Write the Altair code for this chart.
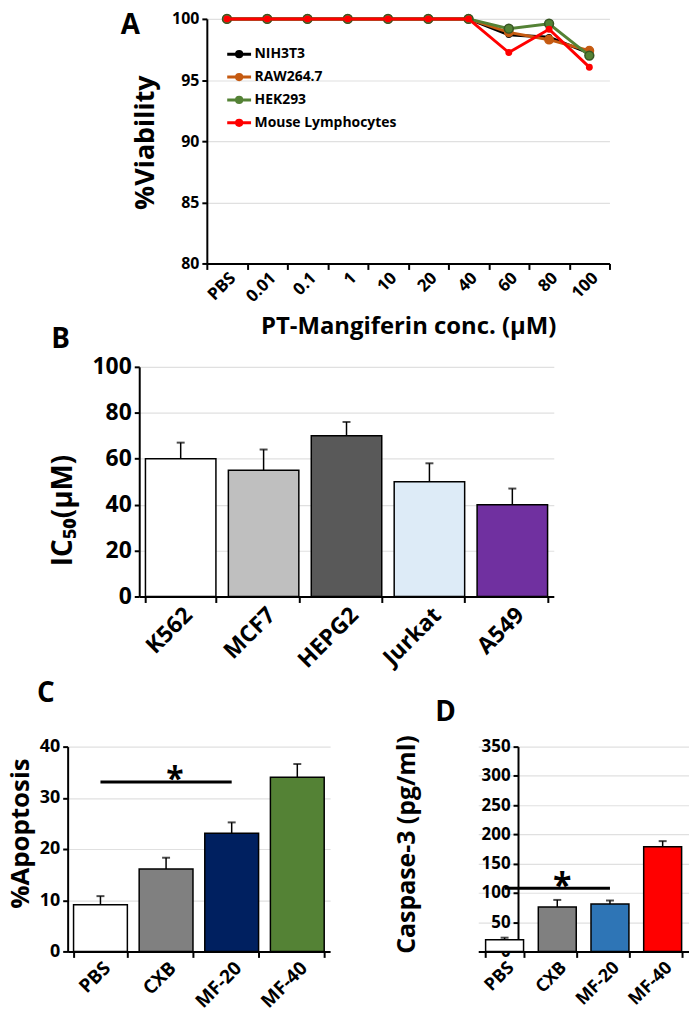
import altair as alt
import pandas as pd

FONT = "Open Sans"

# ---------------- Panel A data ----------------
conc = ["PBS", "0.01", "0.1", "1", "10", "20", "40", "60", "80", "100"]
nih3t3 = [100, 100, 100, 100, 100, 100, 100, 98.7, 98.5, 97.2]
raw2647 = [100, 100, 100, 100, 100, 100, 100, 98.9, 98.3, 97.4]
hek293 = [100, 100, 100, 100, 100, 100, 100, 99.2, 99.6, 97.0]
mouse_lymph = [100, 100, 100, 100, 100, 100, 100, 97.25, 99.15, 96.05]
series_names = ["NIH3T3", "RAW264.7", "HEK293", "Mouse Lymphocytes"]
series_colors = ["#000000", "#C55A11", "#548235", "#FF0000"]
point_sizes = [25, 70, 80, 30]
point_strokes = ["#000000", "#C55A11", "#375623", "#FF0000"]
viab_ticks = [80, 85, 90, 95, 100]

# ---------------- Panel B data ----------------
cells_b = ["K562", "MCF7", "HEPG2", "Jurkat", "A549"]
ic50 = [60, 55, 70, 50, 40]
ic50_err = [7, 9, 6, 8, 7]
colors_b = ["#FFFFFF", "#BFBFBF", "#595959", "#DDEBF7", "#7030A0"]
ic50_ticks = [0, 20, 40, 60, 80, 100]

# ---------------- Panel C data ----------------
groups = ["PBS", "CXB", "MF-20", "MF-40"]
apoptosis = [9.1, 16.1, 23.1, 34.0]
apoptosis_err = [1.7, 2.2, 2.1, 2.6]
colors_c = ["#FFFFFF", "#808080", "#002060", "#548235"]
apo_ticks = [0, 10, 20, 30, 40]
sig_c = 33.1

# ---------------- Panel D data ----------------
caspase = [20, 76, 81, 179]
caspase_err = [3.5, 12, 6, 9.5]
colors_d = ["#FFFFFF", "#808080", "#2E75B6", "#FF0000"]
casp_ticks = [0, 50, 100, 150, 200, 250, 300, 350]
sig_d = 108

GRID = "#E0E0E0"


# ---------------- helpers ----------------
def letter(txt, x, y):
    return alt.Chart(pd.DataFrame({"t": [txt]})).mark_text(
        font=FONT, fontSize=28, fontWeight="bold", color="black",
        align="center", baseline="middle"
    ).encode(x=alt.value(x), y=alt.value(y), text="t:N")


def yaxis(title, values, lfs, tfs, tx, ty, offset=0):
    return alt.Axis(title=title, values=values, labelFontSize=lfs, orient="left",
                    offset=offset, titleFontSize=tfs, titleX=tx, titleY=ty,
                    titleAngle=270, titleBaseline="top", titleAlign="center",
                    grid=True, gridColor=GRID, gridWidth=1.2, tickSize=5,
                    labelPadding=3)


def xaxis(lfs, offset=0):
    return alt.Axis(title=None, labelAngle=-45, labelFontSize=lfs, grid=False,
                    orient="bottom", offset=offset, tickBand="extent",
                    tickSize=6, labelPadding=1)


def bar_panel(cats, field, vals, errs, colors, xrange, yrange, ydomain, yax, xax,
              pad_in, sig=None, star_dx=0, star_dy=0, star_fs=32):
    df = pd.DataFrame({field: cats, "val": vals,
                       "top": [v + e for v, e in zip(vals, errs)]})
    xs = alt.Scale(domain=cats, range=xrange, paddingInner=pad_in, paddingOuter=pad_in / 2)
    ys = alt.Scale(domain=ydomain, range=yrange, nice=False, zero=True)
    X = alt.X(f"{field}:N", sort=cats, scale=xs, axis=xax)
    base = alt.Chart(df)
    bars = base.mark_bar(stroke="black", strokeWidth=1.5).encode(
        x=X, y=alt.Y("val:Q", scale=ys, axis=yax),
        color=alt.Color(f"{field}:N", scale=alt.Scale(domain=cats, range=colors), legend=None),
    )
    err = base.mark_rule(color="black", strokeWidth=1.5).encode(
        x=X, y=alt.Y("val:Q", scale=ys, axis=yax), y2="top:Q")
    cap = base.mark_tick(color="black", thickness=2, size=8).encode(
        x=X, y=alt.Y("top:Q", scale=ys, axis=yax))
    layers = [bars, err, cap]
    if sig is not None:
        sdf = pd.DataFrame({field: [cats[0]], "x2": [cats[2]], "val": [sig]})
        tdf = pd.DataFrame({field: [cats[1]], "val": [sig], "star": ["*"]})
        layers.append(alt.Chart(sdf).mark_rule(color="black", strokeWidth=3).encode(
            x=X, x2=alt.X2("x2:N"), y=alt.Y("val:Q", scale=ys, axis=yax)))
        layers.append(alt.Chart(tdf).mark_text(
            font=FONT, fontSize=star_fs, fontWeight="bold", color="black",
            baseline="alphabetic", dx=star_dx, dy=star_dy).encode(
            x=X, y=alt.Y("val:Q", scale=ys, axis=yax), text="star:N"))
    return alt.layer(*layers)


# ---------------- Panel A ----------------
dfA = pd.DataFrame({
    "conc": conc * 4,
    "viability": nih3t3 + raw2647 + hek293 + mouse_lymph,
    "series": [s for s in series_names for _ in conc],
})

OFF_A = 140
WA, HA = 545, 246
xA = alt.X("conc:N", sort=conc,
           scale=alt.Scale(type="band", domain=conc, range=[OFF_A, WA],
                           paddingInner=0, paddingOuter=0),
           axis=alt.Axis(title="PT-Mangiferin conc. (µM)", labelAngle=-45,
                         labelFontSize=17, grid=False, tickBand="extent",
                         tickSize=6, labelPadding=0, titleFontSize=24,
                         titleY=63, titleX=OFF_A + (WA - OFF_A) / 2,
                         titleBaseline="middle", titleAlign="center"))
yA = alt.Y("viability:Q", scale=alt.Scale(domain=[80, 100], nice=False, zero=False),
           axis=yaxis("%Viability", viab_ticks, 16, 27, -75, 124, offset=-OFF_A))

legendA = alt.Legend(
    title=None, orient="none", legendX=OFF_A + 19, legendY=22, padding=0,
    symbolType="M-1,0H1M-0.22,0A0.22,0.22,0,1,1,0.22,0A0.22,0.22,0,1,1,-0.22,0",
    symbolSize=576, symbolStrokeWidth=3, labelFont=FONT, labelFontSize=14,
    labelFontWeight="bold", labelColor="black", rowPadding=0, labelOffset=2,
)

layersA = []
for name, col, sz, sc in zip(series_names, series_colors, point_sizes, point_strokes):
    base = alt.Chart(dfA).transform_filter(alt.datum.series == name)
    line = base.mark_line(strokeWidth=3).encode(
        x=xA, y=yA,
        color=alt.Color("series:N",
                        scale=alt.Scale(domain=series_names, range=series_colors),
                        legend=legendA),
    )
    pts = base.mark_circle(size=sz, color=col, stroke=sc, strokeWidth=1.5,
                           opacity=1).encode(x=xA, y=yA)
    layersA += [line, pts]

chartA = alt.layer(*layersA, letter("A", OFF_A - 77, 7)).properties(width=WA, height=HA)

# ---------------- Panel B ----------------
OFF_B = 72
WB, HB = 489, 231
panelB = bar_panel(cells_b, "cell", ic50, ic50_err, colors_b, [OFF_B, WB], [HB, 0], [0, 100],
                   yaxis("IC₅₀(µM)", ic50_ticks, 23, 28, -90, 144, offset=-OFF_B),
                   xaxis(23), 0.15)
chartB = alt.layer(panelB, letter("B", OFF_B - 79, -27)).properties(width=WB, height=HB)

# ---------------- Panels C and D (one layered view) ----------------
WCD, HCD = 625, 253
TOP_CD = 47
OFF_D = 413
SHIFT_D = 40  # compensation measured from an earlier render
panelC = bar_panel(groups, "grpC", apoptosis, apoptosis_err, colors_c, [0, 264],
                   [HCD, TOP_CD], [0, 40],
                   yaxis("%Apoptosis", apo_ticks, 18, 26, -60, 134),
                   xaxis(19), 0.18, sig=sig_c, star_dx=9, star_dy=8, star_fs=32)
panelD = bar_panel(groups, "grpD", caspase, caspase_err, colors_d, [OFF_D, WCD],
                   [HCD, TOP_CD], [0, 350],
                   yaxis("Caspase-3 (pg/ml)", casp_ticks, 17, 25, -84 - SHIFT_D, 145,
                         offset=-(OFF_D + SHIFT_D)),
                   xaxis(18), 0.28, sig=sig_d, star_dx=5, star_dy=9, star_fs=34)
chartCD = alt.layer(panelC, panelD).resolve_scale(
    x="independent", y="independent", color="independent"
).resolve_axis(x="independent", y="independent")
chartCD = alt.layer(chartCD, letter("C", -22, -6), letter("D", OFF_D - 33, 13)).properties(
    width=WCD, height=HCD)

# ---------------- Layout ----------------
chart = alt.vconcat(chartA, chartB, chartCD, spacing=104, bounds="flush").resolve_scale(
    x="independent", y="independent", color="independent"
).properties(padding=0, background="white").configure_view(strokeWidth=0).configure_axis(
    domainColor="black", domainWidth=2, tickColor="black", tickWidth=2,
    labelColor="black", labelFont=FONT, labelFontWeight="bold",
    titleFont=FONT, titleFontWeight="bold", titleColor="black",
)

chart.save("out.html", embed_options={"renderer": "svg", "actions": False})
